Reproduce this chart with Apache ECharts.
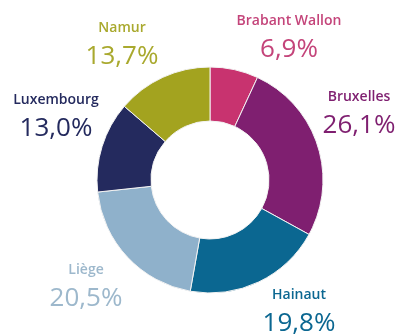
<!DOCTYPE html>
<html>
<head>
<meta charset="utf-8">
<style>
  html, body { margin: 0; padding: 0; background: #ffffff; }
  #chart { width: 401px; height: 335px; }
</style>
<script src="https://cdn.jsdelivr.net/npm/echarts@6/dist/echarts.min.js"></script>
</head>
<body>
<div id="chart"></div>
<script>
// Provinces / regions and their share (%)
const regions = ['Brabant Wallon', 'Bruxelles', 'Hainaut', 'Liège', 'Luxembourg', 'Namur'];
const shares = [6.9, 26.1, 19.8, 20.5, 13.0, 13.7];

// Slice fill colours and label colours
const sliceColors = ['#c8336f', '#7f1f70', '#0b6791', '#8fb1cb', '#242a5e', '#a3a31f'];
const labelColors = ['#c4447a', '#7f1f70', '#0b6791', '#9db8cc', '#242a5e', '#a9a92e'];

// Label anchor points (centre of the two-line label block), in pixels
const labelAnchors = [
  [289, 37], [359, 113], [299, 311], [86, 286], [56, 116], [122, 44]
];

const fmt = v => v.toFixed(1).replace('.', ',') + '%';

const chart = echarts.init(document.getElementById('chart'), null, { renderer: 'canvas' });

chart.setOption({
  animation: false,
  series: [{
    type: 'pie',
    center: [210, 180],
    radius: [59, 113],
    startAngle: 90,
    clockwise: true,
    avoidLabelOverlap: false,
    itemStyle: { borderColor: '#f2f2f2', borderWidth: 1 },
    label: {
      show: true,
      position: 'outside',
      align: 'center',
      verticalAlign: 'middle',
      formatter: p => '{n|' + p.name + '}\n{v|' + fmt(p.value) + '}',
      rich: {
        n: { fontFamily: 'Open Sans', fontSize: 14, fontWeight: 600, lineHeight: 26, align: 'center' },
        v: { fontFamily: 'Open Sans', fontSize: 26, fontWeight: 400, lineHeight: 32, align: 'center' }
      }
    },
    labelLine: { show: false },
    labelLayout: p => ({
      x: labelAnchors[p.dataIndex][0],
      y: labelAnchors[p.dataIndex][1],
      align: 'center',
      verticalAlign: 'middle'
    }),
    emphasis: { disabled: true },
    data: regions.map((name, i) => ({
      name: name,
      value: shares[i],
      itemStyle: { color: sliceColors[i] },
      label: {
        rich: {
          n: { color: labelColors[i] },
          v: { color: labelColors[i] }
        }
      }
    }))
  }]
});
</script>
</body>
</html>
